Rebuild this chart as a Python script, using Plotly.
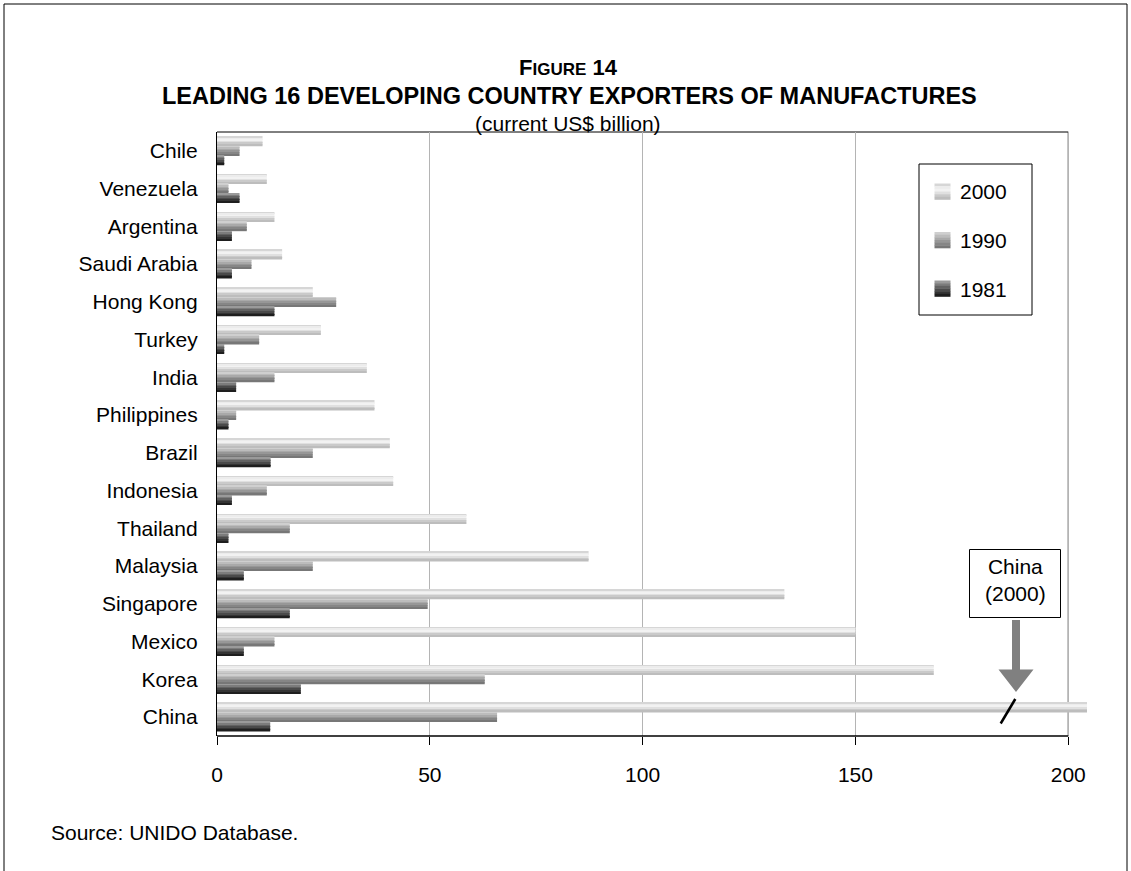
import plotly.graph_objects as go

# Leading developing-country exporters of manufactures, current US$ billion
countries = ["Chile", "Venezuela", "Argentina", "Saudi Arabia", "Hong Kong", "Turkey",
             "India", "Philippines", "Brazil", "Indonesia", "Thailand", "Malaysia",
             "Singapore", "Mexico", "Korea", "China"]
years = ["2000", "1990", "1981"]
exports_2000 = [10.7, 11.7, 13.5, 15.3, 22.5, 24.4, 35.2, 37.0, 40.6, 41.4,
                58.6, 87.3, 133.3, 150.0, 168.4, 204.4]   # China 2000 drawn truncated at the axis break
exports_1990 = [5.3, 2.7, 7.0, 8.1, 28.0, 9.9, 13.5, 4.5, 22.5, 11.7,
                17.1, 22.5, 49.5, 13.5, 62.9, 65.8]
exports_1981 = [1.7, 5.3, 3.5, 3.5, 13.5, 1.7, 4.5, 2.7, 12.6, 3.5,
                2.7, 6.3, 17.1, 6.3, 19.7, 12.5]
x_ticks = [0, 50, 100, 150, 200]

series = {"2000": exports_2000, "1990": exports_1990, "1981": exports_1981}

# Top-to-bottom shading bands used to give each bar a cylinder-like gradient
shades = {
    "2000": ["#d6d6d6", "#ececec", "#f2f2f2", "#e0e0e0", "#cacaca", "#bdbdbd"],
    "1990": ["#cfcfcf", "#bcbcbc", "#a9a9a9", "#979797", "#868686", "#777777"],
    "1981": ["#9a9a9a", "#7c7c7c", "#626262", "#4a4a4a", "#343434", "#1e1e1e"],
}

FONT = "Liberation Sans, Arial, sans-serif"
W, H = 1131, 871
L, R, T, B = 217, 44, 132, 135
PW, PH = W - L - R, H - T - B


def px(xp):
    return (xp - L) / PW


def py(yp):
    return (H - B - yp) / PH


fig = go.Figure()

group = 0.76
bar_w = group / len(years)
for si, yr in enumerate(years):
    bands = shades[yr]
    sw = bar_w / len(bands)
    for bi, col in enumerate(bands):
        fig.add_trace(go.Bar(
            x=series[yr], y=countries, orientation="h",
            offset=-group / 2 + si * bar_w + bi * sw, width=sw * 1.02,
            marker=dict(color=col, line=dict(width=0)),
            showlegend=False, hoverinfo="x+y", name=yr,
        ))

shapes = []
# plot box (top, right, bottom) ending at the 200 mark
shapes.append(dict(type="line", xref="x", yref="paper", x0=0, x1=200, y0=1, y1=1,
                   line=dict(color="black", width=1), layer="below"))
shapes.append(dict(type="line", xref="x", yref="paper", x0=200, x1=200, y0=0, y1=1,
                   line=dict(color="black", width=1), layer="below"))
shapes.append(dict(type="line", xref="x", yref="paper", x0=0, x1=200, y0=0, y1=0,
                   line=dict(color="black", width=1.3), layer="above"))

# page frame
frame = dict(color="black", width=1)
shapes.append(dict(type="line", xref="paper", yref="paper", x0=px(4), x1=px(4), y0=py(4), y1=py(H + 2), line=frame))
shapes.append(dict(type="line", xref="paper", yref="paper", x0=px(4), x1=px(1127), y0=py(4), y1=py(4), line=frame))
shapes.append(dict(type="line", xref="paper", yref="paper", x0=px(1127), x1=px(1127), y0=py(4), y1=py(H + 2), line=frame))

# legend box and gradient swatches
shapes.append(dict(type="rect", xref="paper", yref="paper", x0=px(919), x1=px(1032), y0=py(164), y1=py(315),
                   line=dict(color="black", width=1), fillcolor="white"))
legend_rows = [(years[0], 183.5), (years[1], 232), (years[2], 280.5)]
for yr, top in legend_rows:
    bands = shades[yr]
    hgt = 16 / len(bands)
    for bi, col in enumerate(bands):
        shapes.append(dict(type="rect", xref="paper", yref="paper",
                           x0=px(934.5), x1=px(950.5), y0=py(top + bi * hgt), y1=py(top + (bi + 1) * hgt + 0.3),
                           line=dict(width=0), fillcolor=col))

# callout box, arrow and axis-break mark for China (2000)
shapes.append(dict(type="rect", xref="paper", yref="paper", x0=px(969.5), x1=px(1060.5), y0=py(549.5), y1=py(617.5),
                   line=dict(color="black", width=1), fillcolor="white"))
arrow_pts = [(1012, 620), (1020, 620), (1020, 669.5), (1033.5, 669.5), (1016, 692),
             (998.5, 669.5), (1012, 669.5)]
path = "M " + " L ".join(f"{px(a):.5f},{py(b):.5f}" for a, b in arrow_pts) + " Z"
shapes.append(dict(type="path", xref="paper", yref="paper", path=path,
                   fillcolor="#808080", line=dict(width=0)))
shapes.append(dict(type="line", xref="paper", yref="paper", x0=px(1000.7), y0=py(723.5), x1=px(1015.3), y1=py(699),
                   line=dict(color="black", width=2.5)))

annotations = [
    dict(text='<b>F<span style="font-size:17px">IGURE</span> 14</b>', x=px(568), y=py(68), xref="paper", yref="paper",
         showarrow=False, font=dict(family=FONT, size=22, color="black"), xanchor="center", yanchor="middle"),
    dict(text="<b>LEADING 16 DEVELOPING COUNTRY EXPORTERS OF MANUFACTURES</b>", x=px(569), y=py(96.5),
         xref="paper", yref="paper", showarrow=False, font=dict(family=FONT, size=23.5, color="black"),
         xanchor="center", yanchor="middle"),
    dict(text="(current US$ billion)", x=px(568), y=py(123.5), xref="paper", yref="paper", showarrow=False,
         font=dict(family=FONT, size=21, color="black"), xanchor="center", yanchor="middle"),
    dict(text="Source: UNIDO Database.", x=px(49), y=py(833), xref="paper", yref="paper", showarrow=False,
         font=dict(family=FONT, size=21, color="black"), xanchor="left", yanchor="middle"),
    dict(text="China<br>(2000)", x=px(1015), y=py(580), xref="paper", yref="paper", showarrow=False,
         font=dict(family=FONT, size=21, color="black"), xanchor="center", yanchor="middle"),
]
for yr, top in legend_rows:
    annotations.append(dict(text=yr, x=px(958), y=py(top + 8.5), xref="paper", yref="paper", showarrow=False,
                            font=dict(family=FONT, size=21, color="black"), xanchor="left", yanchor="middle"))

fig.update_layout(
    width=W, height=H,
    margin=dict(l=L, r=R, t=T, b=B, pad=0),
    paper_bgcolor="white", plot_bgcolor="white",
    barmode="overlay",
    font=dict(family=FONT, size=21, color="black"),
    shapes=shapes, annotations=annotations,
    showlegend=False,
    xaxis=dict(range=[0, 204.4], tickvals=x_ticks, ticktext=[str(v) for v in x_ticks],
               ticks="outside", ticklen=8, tickcolor="black", tickwidth=1,
               showgrid=True, gridcolor="#b4b4b4", gridwidth=1, zeroline=False, showline=False,
               ticklabelstandoff=12, tickfont=dict(family=FONT, size=21, color="black")),
    yaxis=dict(type="category", categoryorder="array", categoryarray=countries, autorange="reversed",
               showline=True, linecolor="black", linewidth=1.3, ticks="", showgrid=False, zeroline=False,
               ticklabelstandoff=14, tickfont=dict(family=FONT, size=21, color="black")),
)

fig.write_html("out.html")
